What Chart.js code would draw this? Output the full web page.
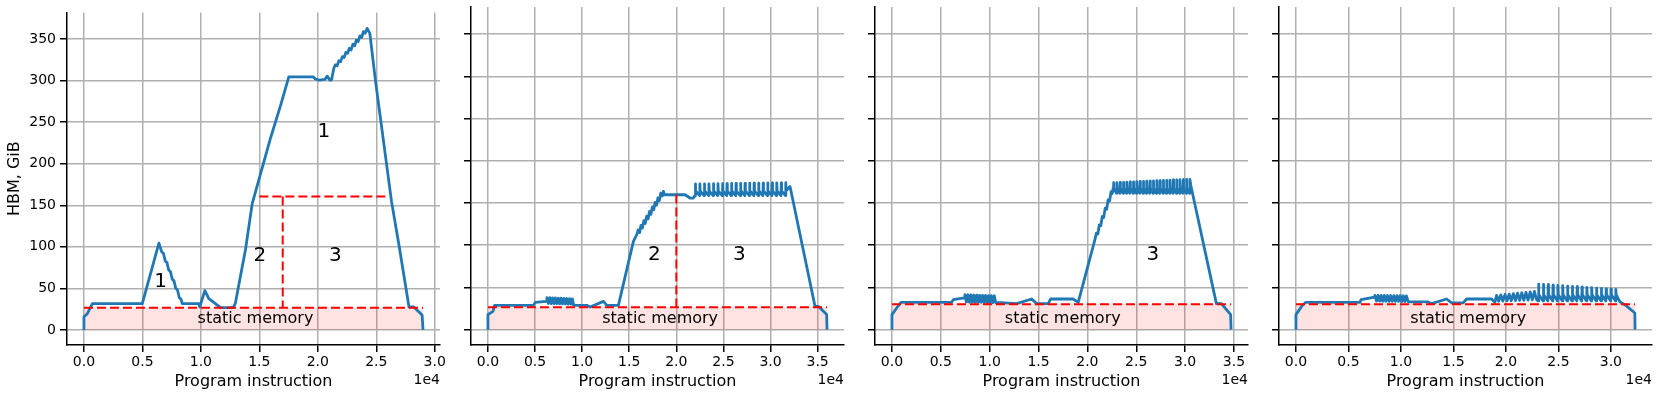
<!DOCTYPE html>
<html>
<head>
<meta charset="utf-8">
<script src="https://cdn.jsdelivr.net/npm/chart.js@4.4.1/dist/chart.umd.min.js"></script>
<style>
  html, body { margin: 0; padding: 0; background: #fff; overflow: hidden; width: 1661px; height: 399px; }
  canvas { position: absolute; top: 0; }
</style>
</head>
<body>
<canvas id="c1" width="460" height="399" style="left:0px"></canvas>
<canvas id="c2" width="424" height="399" style="left:440px"></canvas>
<canvas id="c3" width="424" height="399" style="left:844px"></canvas>
<canvas id="c4" width="424" height="399" style="left:1248px"></canvas>
<script>
// HBM usage per program instruction, four runs
const instr1 = [0, 0, 290, 720, 4990, 6410,
  6650, 6800, 6950, 7100, 7250, 7400, 7550, 7700, 7850, 8000, 8150, 8300, 8410,
  9830, 9900, 10340, 10680, 11680, 12770, 12950, 13150, 13820, 14390, 15960, 16810, 17520,
  19600, 19800, 20090, 20600, 20800, 21030, 21170, 21370,
  21500, 21650, 21800, 21950, 22100, 22250, 22400, 22550, 22700, 22850, 23000, 23150, 23300, 23450, 23600, 23750, 23900, 24050, 24220,
  24450, 24930, 26300, 27000, 27800, 28210, 28920, 29000];
const hbm1 = [0, 15.7, 19.5, 31.6, 31.6, 104.5,
  94, 92, 83, 81, 72, 70, 61, 59, 50, 48, 39, 37, 31.6,
  31.6, 27.6, 47.3, 37.5, 26.8, 26.8, 32, 47, 97, 152, 231, 270, 304.6,
  304.6, 302, 300.7, 301.5, 305.5, 300.7, 300.7, 314.9,
  319, 318, 324, 323, 329, 328, 334, 333, 339, 337, 344, 342, 349, 347, 354, 352, 359, 357, 363,
  357, 300, 155, 97, 27.6, 27.6, 17.8, 0];

const instr2 = [0, 0, 530, 700, 4840, 5020, 6200,
  6260, 6410, 6560, 6710, 6860, 7010, 7160, 7310, 7460, 7610, 7760, 7910, 8060, 8210, 8360, 8510, 8660, 8810, 8960, 9080,
  9100, 10500, 10850, 12260, 12620, 13850, 15440, 15800,
  15950, 16100, 16250, 16400, 16550, 16700, 16850, 17000, 17150, 17300, 17450, 17600, 17750, 17900, 18050, 18200, 18350, 18500, 18630,
  18730, 20930, 21460, 21810,
  21990, 22020, 22050, 22470, 22500, 22530, 22950, 22980, 23010, 23430, 23460, 23490, 23910, 23940, 23970,
  24390, 24420, 24450, 24870, 24900, 24930, 25350, 25380, 25410, 25830, 25860, 25890, 26310, 26340, 26370,
  26790, 26820, 26850, 27270, 27300, 27330, 27750, 27780, 27810, 28230, 28260, 28290, 28710, 28740, 28770,
  29190, 29220, 29250, 29670, 29700, 29730, 30150, 30180, 30210, 30630, 30660, 30690, 31110, 31140, 31170,
  31590, 31620, 31650, 32070,
  34720, 35070, 35960, 36000];
const hbm2 = [0, 17.8, 21.7, 28.8, 28.8, 32.3, 33.5,
  38.0, 31.0, 37.9, 30.9, 37.7, 30.8, 37.5, 30.7, 37.4, 30.6, 37.2, 30.5, 37.0, 30.4, 36.9, 30.3, 36.7, 30.2, 36.5, 29.8,
  28.8, 28.8, 26.8, 33.5, 28.8, 28.8, 104.5, 112.5,
  118.2, 114.9, 123.6, 120.4, 129.1, 125.8, 134.5, 131.2, 139.9, 136.7, 145.4, 142.1, 150.8, 147.5, 156.2, 153.0, 161.7, 158.4, 163.7,
  159.8, 159.8, 155.9, 155.9,
  158.8, 172.5, 164.5, 158.8, 172.6, 164.5, 158.8, 172.6, 164.5, 158.8, 172.7, 164.5, 158.8, 172.8, 164.5,
  158.8, 172.9, 164.5, 158.8, 172.9, 164.5, 158.8, 173.0, 164.5, 158.8, 173.1, 164.5, 158.8, 173.2, 164.5,
  158.8, 173.3, 164.5, 158.8, 173.3, 164.5, 158.8, 173.4, 164.5, 158.8, 173.5, 164.5, 158.8, 173.6, 164.5,
  158.8, 173.6, 164.5, 158.8, 173.7, 164.5, 158.8, 173.8, 164.5, 158.8, 173.9, 164.5, 158.8, 173.9, 164.5,
  158.8, 174.0, 164.5, 169.6,
  27.6, 27.6, 17.8, 0];

const instr3 = [0, 0, 480, 920, 6110, 6270, 7400,
  7470, 7620, 7770, 7920, 8070, 8220, 8370, 8520, 8670, 8820, 8970, 9120, 9270, 9420, 9570, 9720, 9870, 10020, 10170, 10320, 10470, 10620, 10710,
  12760, 14300, 14810, 16000, 16240, 18550, 19060, 20770,
  20920, 21070, 21220, 21370, 21520, 21670, 21820, 21970, 22120, 22270, 22420, 22540, 22640,
  22670, 22700, 22980, 23010, 23040, 23320, 23350, 23380, 23660, 23690, 23720, 24000, 24030, 24060,
  24340, 24370, 24400, 24680, 24710, 24740, 25020, 25050, 25080, 25360, 25390, 25420, 25700, 25730, 25760,
  26040, 26070, 26100, 26380, 26410, 26440, 26720, 26750, 26780, 27060, 27090, 27120, 27400, 27430, 27460,
  27740, 27770, 27800, 28080, 28110, 28140, 28420, 28450, 28480, 28760, 28790, 28820, 29100, 29130, 29160,
  29440, 29470, 29500, 29780, 29810, 29840, 30120, 30150, 30180, 30460, 30490, 30590,
  33200, 33710, 34660, 34700];
const hbm3 = [0, 17.8, 25.6, 32.3, 32.3, 35.5, 37.5,
  41.4, 32.5, 41.3, 32.4, 41.1, 32.4, 41.0, 32.3, 40.9, 32.2, 40.7, 32.2, 40.6, 32.1, 40.5, 32.0, 40.3, 31.9, 40.2, 31.9, 40.1, 31.8, 32.3,
  30.8, 36.3, 30.8, 30.8, 36.3, 36.3, 32.3, 106.5,
  114.4, 113.3, 124.2, 123.1, 134.0, 132.9, 143.8, 142.7, 153.6, 152.4, 163.3, 161.2, 167.7,
  174.0, 167.5, 161.5, 174.2, 167.5, 161.5, 174.4, 167.5, 161.5, 174.5, 167.5, 161.5, 174.7, 167.5,
  161.5, 174.9, 167.5, 161.5, 175.1, 167.5, 161.5, 175.3, 167.5, 161.5, 175.5, 167.5, 161.5, 175.6, 167.5,
  161.5, 175.8, 167.5, 161.5, 176.0, 167.5, 161.5, 176.2, 167.5, 161.5, 176.4, 167.5, 161.5, 176.5, 167.5,
  161.5, 176.7, 167.5, 161.5, 176.9, 167.5, 161.5, 177.1, 167.5, 161.5, 177.3, 167.5, 161.5, 177.5, 167.5,
  161.5, 177.6, 167.5, 161.5, 177.8, 167.5, 161.5, 178.0, 167.5, 161.5, 178.0, 170.5,
  30.8, 30.8, 17.8, 0];

const instr4 = [0, 0, 540, 920, 6100, 6200, 7500,
  7520, 7670, 7820, 7970, 8120, 8270, 8420, 8570, 8720, 8870, 9020, 9170, 9320, 9470, 9620, 9770, 9920, 10070, 10220, 10370, 10520, 10700,
  12600, 12920, 14350, 14830, 15930, 16250, 18640, 18950,
  19110, 19310, 19510, 19710, 19910, 20110, 20310, 20510, 20710, 20910, 21110, 21310, 21510, 21710, 21910, 22110, 22310, 22510, 22710, 22920,
  23080, 23110, 23140, 23540, 23570, 23600, 24000, 24030, 24060, 24460, 24490, 24520, 24920, 24950, 24980,
  25380, 25410, 25440, 25840, 25870, 25900, 26300, 26330, 26360, 26760, 26790, 26820, 27220, 27250, 27280,
  27680, 27710, 27740, 28140, 28170, 28200, 28600, 28630, 28660, 29060, 29090, 29120, 29520, 29550, 29580,
  29980, 30010, 30040, 30440, 30470, 30500, 30860,
  31020, 31330, 32280, 32300];
const hbm4 = [0, 17.8, 27.6, 32.3, 32.3, 35.5, 38.5,
  40.6, 33.8, 40.6, 33.7, 40.5, 33.6, 40.5, 33.6, 40.4, 33.5, 40.4, 33.5, 40.3, 33.4, 40.2, 33.4, 40.2, 33.3, 40.1, 33.3, 40.0, 32.8,
  32.8, 30.8, 36.3, 31.6, 31.6, 36.3, 36.3, 32.3,
  40.6, 33.6, 41.1, 33.8, 41.6, 34.0, 42.1, 34.2, 42.6, 34.4, 43.2, 34.6, 43.7, 34.8, 44.2, 35.0, 44.7, 35.2, 45.2, 35.4,
  34.0, 54.0, 41.5, 34.0, 53.6, 41.5, 34.0, 53.2, 41.5, 34.0, 52.8, 41.5, 34.0, 52.4, 41.5,
  34.0, 52.0, 41.5, 34.0, 51.6, 41.5, 34.0, 51.2, 41.5, 34.0, 50.8, 41.5, 34.0, 50.4, 41.5,
  34.0, 50.0, 41.5, 34.0, 49.6, 41.5, 34.0, 49.2, 41.5, 34.0, 48.8, 41.5, 34.0, 48.4, 41.5,
  34.0, 48.0, 41.5, 34.0, 47.6, 41.5, 33.0,
  31.6, 29.6, 19.7, 0];

// static memory level and end of program per run
const staticLevel = [26.5, 26.5, 30, 30];
const programEnd = [29000, 36000, 34700, 32300];

// phase markers (red dashed)
const phaseSplitX = [17000, 20000, null, null];
const phaseTop = [160.5, 160, null, null];
const phaseSpan1 = [15000, 26000];

// phase numbers
const phaseText1 = ['1', '1', '2', '3'];
const phaseX1 = [6560, 20510, 15040, 21510];
const phaseY1 = [58, 238.7, 88.8, 88.8];
const phaseText2 = ['2', '3'];
const phaseX2 = [17670, 26690];
const phaseY2 = [88.8, 88.8];
const phaseText3 = ['3'];
const phaseX3 = [26710];
const phaseY3 = [88.8];
const staticTextX = [14670, 18280, 17480, 16410];
const staticTextY = 12.7;

// axes
const xMin = [-1450, -1800, -1735, -1615];
const xMax = [30450, 37800, 36435, 33915];
const xTicks1 = [0, 5000, 10000, 15000, 20000, 25000, 30000];
const xTicks2 = [0, 5000, 10000, 15000, 20000, 25000, 30000, 35000];
const yTicks = [0, 50, 100, 150, 200, 250, 300, 350];
const yMin = -18.2, yMax = 382.2;

Chart.defaults.font.family = 'DejaVu Sans';
Chart.defaults.color = '#000';

const FONT = 'DejaVu Sans';

function pts(xs, ys) {
  return xs.map((x, i) => ({ x: x, y: ys[i] }));
}

function buildPanel(canvasId, idx, xs, ys, xTicks, labels) {
  const lvl = staticLevel[idx];
  const end = programEnd[idx];
  const red = { borderColor: 'red', borderWidth: 2, borderDash: [9, 4], pointRadius: 0, showLine: true, fill: false };

  const datasets = [];
  datasets.push(Object.assign({ data: [{ x: 0, y: lvl }, { x: end, y: lvl }] }, red));
  if (phaseSplitX[idx] !== null) {
    datasets.push(Object.assign({ data: [{ x: phaseSplitX[idx], y: phaseTop[idx] }, { x: phaseSplitX[idx], y: lvl }] }, red));
  }
  if (idx === 0) {
    datasets.push(Object.assign({ data: [{ x: phaseSpan1[0], y: phaseTop[0] }, { x: phaseSpan1[1], y: phaseTop[0] }] }, red));
  }
  datasets.push({
    data: pts(xs, ys),
    borderColor: '#1f77b4',
    borderWidth: 2.8,
    borderJoinStyle: 'round',
    pointRadius: 0,
    showLine: true,
    fill: false
  });
  datasets.push({
    data: [{ x: 0, y: lvl }, { x: end, y: lvl }],
    borderColor: 'transparent',
    borderWidth: 0,
    backgroundColor: 'rgba(255, 0, 0, 0.11)',
    pointRadius: 0,
    showLine: true,
    fill: 'origin'
  });

  const textPlugin = {
    id: 'panelText',
    afterDatasetsDraw(chart) {
      const { ctx, chartArea } = chart;
      const sx = chart.scales.x, sy = chart.scales.y;
      ctx.save();
      ctx.fillStyle = '#000';
      ctx.textAlign = 'center';
      ctx.textBaseline = 'middle';
      ctx.font = '20px "' + FONT + '"';
      labels.text.forEach((t, i) => {
        ctx.fillText(t, sx.getPixelForValue(labels.x[i]), sy.getPixelForValue(labels.y[i]));
      });
      ctx.font = '16px "' + FONT + '"';
      ctx.fillText('static memory', sx.getPixelForValue(staticTextX[idx]), sy.getPixelForValue(staticTextY));
      ctx.font = '14px "' + FONT + '"';
      ctx.textAlign = 'right';
      ctx.fillText('1e4', chartArea.right, 380);
      ctx.restore();
    }
  };

  const gridOpts = { color: '#b0b0b0', lineWidth: 1.5, tickColor: '#000', tickLength: 7, tickWidth: 1.5, drawTicks: true };
  const borderOpts = { display: true, color: '#000', width: 1.5 };

  return new Chart(document.getElementById(canvasId), {
    type: 'scatter',
    data: { datasets: datasets },
    plugins: [textPlugin],
    options: {
      responsive: false,
      animation: false,
      layout: { padding: { top: 7, right: 20, left: 0, bottom: 0 }, autoPadding: false },
      plugins: { legend: { display: false }, tooltip: { enabled: false } },
      elements: { line: { tension: 0 } },
      scales: {
        x: {
          type: 'linear',
          min: xMin[idx],
          max: xMax[idx],
          afterBuildTicks: s => { s.ticks = xTicks.map(v => ({ value: v })); },
          afterFit: s => { s.height = 54; },
          ticks: {
            callback: v => (v / 1e4).toFixed(1),
            font: { family: FONT, size: 14 },
            color: '#000',
            maxRotation: 0,
            autoSkip: false,
            padding: 2
          },
          grid: gridOpts,
          border: borderOpts,
          title: {
            display: true,
            text: 'Program instruction',
            font: { family: FONT, size: 16 },
            color: '#000',
            padding: { top: 0, bottom: 8 }
          }
        },
        y: {
          type: 'linear',
          min: yMin,
          max: yMax,
          afterBuildTicks: s => { s.ticks = yTicks.map(v => ({ value: v })); },
          afterFit: s => { s.width = idx === 0 ? 67 : 31; },
          ticks: {
            display: idx === 0,
            callback: v => String(v),
            font: { family: FONT, size: 14 },
            color: '#000',
            padding: 4
          },
          grid: gridOpts,
          border: borderOpts,
          title: {
            display: idx === 0,
            text: 'HBM, GiB',
            font: { family: FONT, size: 16 },
            color: '#000',
            padding: { top: 5, bottom: 0 }
          }
        }
      }
    }
  });
}

buildPanel('c1', 0, instr1, hbm1, xTicks1, { text: phaseText1, x: phaseX1, y: phaseY1 });
buildPanel('c2', 1, instr2, hbm2, xTicks2, { text: phaseText2, x: phaseX2, y: phaseY2 });
buildPanel('c3', 2, instr3, hbm3, xTicks2, { text: phaseText3, x: phaseX3, y: phaseY3 });
buildPanel('c4', 3, instr4, hbm4, xTicks1, { text: [], x: [], y: [] });
</script>
</body>
</html>
